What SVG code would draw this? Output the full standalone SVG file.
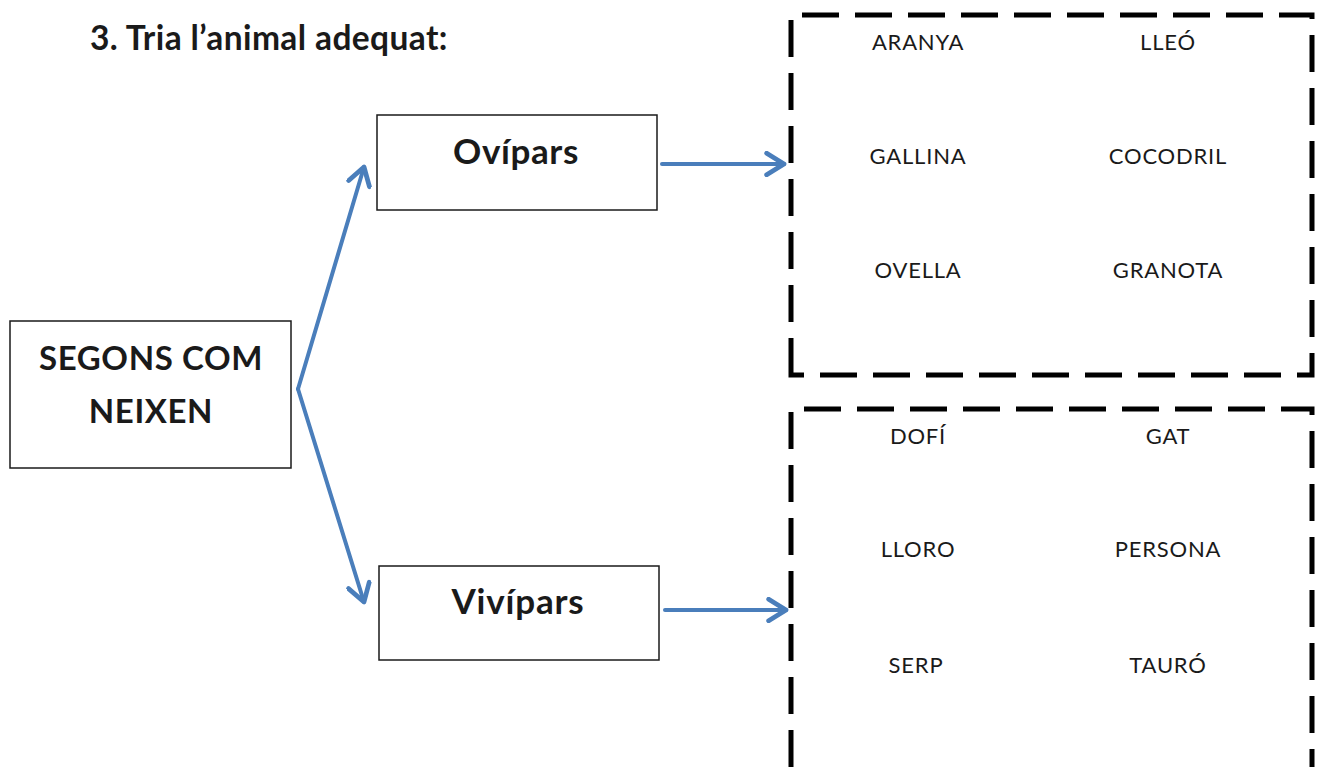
<svg xmlns="http://www.w3.org/2000/svg" width="1324" height="767" viewBox="0 0 1324 767">
<style>
text{font-family:Lato,"Open Sans","Liberation Sans",sans-serif;fill:#1a1a1a}
.b{font-weight:bold;text-anchor:middle}
.w{font-size:22px;letter-spacing:0.8px;text-anchor:middle}
.box{fill:#fff;stroke:#1a1a1a;stroke-width:1.5}
.dash{fill:none;stroke:#000;stroke-width:5;stroke-dasharray:37 16}
.c{fill:none;stroke:#4a7ebb;stroke-width:4;stroke-linecap:round}
</style>
<defs>
<marker id="ah" viewBox="0 0 12 12" refX="10" refY="6" markerWidth="6.5" markerHeight="6.5" orient="auto" markerUnits="strokeWidth">
<path d="M2,1 L10,6 L2,11" fill="none" stroke="#4a7ebb" stroke-width="2.2" stroke-linecap="round" stroke-linejoin="round"/>
</marker>
</defs>
<rect width="1324" height="767" fill="#fff"/>
<text id="title" x="90" y="50" font-size="33.5" font-weight="bold" letter-spacing="0.4">3. Tria l’animal adequat:</text>
<g id="root"><rect class="box" x="10" y="321" width="281" height="147"/>
<text class="b" x="151" y="370" font-size="33" letter-spacing="0.6">SEGONS COM</text>
<text class="b" x="151" y="423" font-size="33" letter-spacing="0.6">NEIXEN</text></g>
<g id="ovipars"><rect class="box" x="377" y="115" width="280" height="95"/>
<text class="b" x="516" y="164" font-size="35" letter-spacing="0.6">Ovípars</text></g>
<g id="vivipars"><rect class="box" x="379" y="566" width="280" height="94"/>
<text class="b" x="518" y="614" font-size="35" letter-spacing="0.8">Vivípars</text></g>
<g id="group1"><path class="dash" d="M791,375 L791,15 L1312,15 L1312,375 Z"/>
<text class="w" x="918" y="50">ARANYA</text><text class="w" x="1168" y="50">LLEÓ</text>
<text class="w" x="918" y="164">GALLINA</text><text class="w" x="1168" y="164">COCODRIL</text>
<text class="w" x="918" y="278">OVELLA</text><text class="w" x="1168" y="278">GRANOTA</text></g>
<g id="group2"><path class="dash" d="M791,767 L791,409 L1312,409 L1312,767"/>
<text class="w" x="918" y="444">DOFÍ</text><text class="w" x="1168" y="444">GAT</text>
<text class="w" x="918" y="557">LLORO</text><text class="w" x="1168" y="557">PERSONA</text>
<text class="w" x="916" y="673">SERP</text><text class="w" x="1168" y="673">TAURÓ</text></g>
<g id="connectors">
<path class="c" d="M298,389 L364,167" marker-end="url(#ah)"/>
<path class="c" d="M298,389 L364,602" marker-end="url(#ah)"/>
<path class="c" d="M662,164 L784,164" marker-end="url(#ah)"/>
<path class="c" d="M665,610 L786,610" marker-end="url(#ah)"/>
</g>
</svg>
